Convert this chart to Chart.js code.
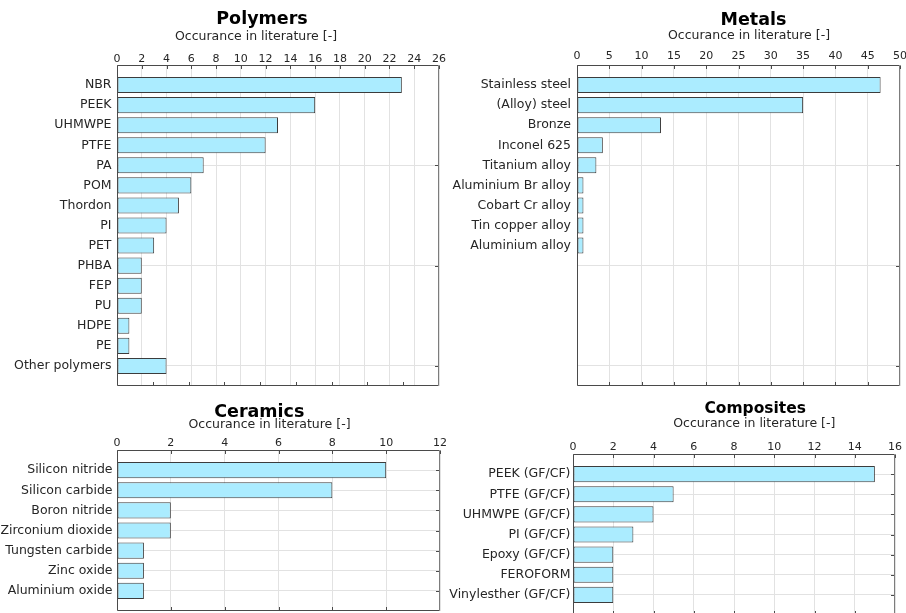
<!DOCTYPE html>
<html>
<head>
<meta charset="utf-8">
<script src="https://cdn.jsdelivr.net/npm/chart.js@4.4.1/dist/chart.umd.min.js"></script>
<style>
  html, body { margin: 0; padding: 0; width: 906px; height: 613px; overflow: hidden; background: #ffffff; }
  canvas { position: absolute; }
</style>
</head>
<body>
<canvas id="polymers" width="453" height="395" style="left:0px;top:0px"></canvas>
<canvas id="metals" width="466" height="395" style="left:440px;top:0px"></canvas>
<canvas id="ceramics" width="453" height="230" style="left:0px;top:395px"></canvas>
<canvas id="composites" width="473" height="235" style="left:433px;top:395px"></canvas>
<script>
// Occurrence counts per material group
const polymerNames = ['NBR', 'PEEK', 'UHMWPE', 'PTFE', 'PA', 'POM', 'Thordon', 'PI', 'PET',
  'PHBA', 'FEP', 'PU', 'HDPE', 'PE', 'Other polymers'];
const polymerCounts = [23, 16, 13, 12, 7, 6, 5, 4, 3, 2, 2, 2, 1, 1, 4];

const metalNames = ['Stainless steel', '(Alloy) steel', 'Bronze', 'Inconel 625', 'Titanium alloy',
  'Aluminium Br alloy', 'Cobart Cr alloy', 'Tin copper alloy', 'Aluminium alloy'];
const metalCounts = [47, 35, 13, 4, 3, 1, 1, 1, 1];

const ceramicNames = ['Silicon nitride', 'Silicon carbide', 'Boron nitride', 'Zirconium dioxide',
  'Tungsten carbide', 'Zinc oxide', 'Aluminium oxide'];
const ceramicCounts = [10, 8, 2, 2, 1, 1, 1];

const compositeNames = ['PEEK (GF/CF)', 'PTFE (GF/CF)', 'UHMWPE (GF/CF)', 'PI (GF/CF)',
  'Epoxy (GF/CF)', 'FEROFORM', 'Vinylesther (GF/CF)'];
const compositeCounts = [15, 5, 4, 3, 2, 2, 2];

// Axis limits and tick steps for the count axis (top)
const polymerAxis = { max: 26, step: 2 };
const metalAxis = { max: 50, step: 5 };
const ceramicAxis = { max: 12, step: 2 };
const compositeAxis = { max: 16, step: 2 };

// Row slots on the category axis, and rows that carry a horizontal grid line
const upperSlots = 16;
const upperGridRows = [5, 10, 15];
const lowerSlots = 8;
const lowerGridRows = [1, 2, 3, 4, 5, 6, 7];

const xLabel = 'Occurance in literature [-]';

Chart.defaults.font.family = '"DejaVu Sans", "Liberation Sans", sans-serif';
Chart.defaults.color = '#262626';

const BAR_FILL = '#abecff';
const BAR_EDGE = '#3c3c3c';
const GRID = '#e2e2e2';
const FRAME = '#4a4a4a';

// Axes box, inward tick marks and the panel headings
const panelFrame = {
  id: 'panelFrame',
  afterDraw(chart, args, o) {
    const { ctx, chartArea: a, scales } = chart;
    const L = Math.round(a.left) + 0.5, R = Math.round(a.right) - 0.5;
    const T = Math.round(a.top) + 0.5, B = Math.round(a.bottom) - 0.5;
    ctx.save();
    ctx.lineWidth = 1;
    ctx.strokeStyle = FRAME;
    // inward ticks along the top edge
    scales.x.ticks.forEach(t => {
      const px = Math.round(scales.x.getPixelForValue(t.value)) + 0.5;
      ctx.beginPath(); ctx.moveTo(px, T); ctx.lineTo(px, T + 3.5); ctx.stroke();
    });
    // inward ticks along the bottom edge
    for (let k = 1; k < o.bottomIntervals; k++) {
      const px = Math.round(a.left + (a.right - a.left) * k / o.bottomIntervals) + 0.5;
      ctx.beginPath(); ctx.moveTo(px, B); ctx.lineTo(px, B - 3.5); ctx.stroke();
    }
    // inward ticks along the right edge
    o.rows.forEach(v => {
      const py = Math.round(scales.y.getPixelForValue(v)) + 0.5;
      ctx.beginPath(); ctx.moveTo(R, py); ctx.lineTo(R - 3.5, py); ctx.stroke();
    });
    // box
    ctx.beginPath();
    ctx.moveTo(L, B); ctx.lineTo(L, T); ctx.lineTo(R, T);
    ctx.moveTo(L, B); ctx.lineTo(R, B);
    ctx.stroke();
    ctx.strokeStyle = '#7c7c7c';
    ctx.beginPath(); ctx.moveTo(R, T); ctx.lineTo(R, B); ctx.stroke();
    // headings
    ctx.textAlign = 'center';
    ctx.textBaseline = 'alphabetic';
    ctx.fillStyle = '#000000';
    ctx.font = 'bold ' + o.titleSize + 'px "DejaVu Sans", sans-serif';
    ctx.fillText(o.title, o.titleX, o.titleY);
    ctx.fillStyle = '#262626';
    ctx.font = '12.5px "DejaVu Sans", sans-serif';
    ctx.fillText(xLabel, o.subX, o.subY);
    ctx.restore();
  }
};

function buildPanel(id, names, counts, axis, slots, gridRows, box, text) {
  const points = counts.map((c, i) => ({ x: c, y: i + 1 }));
  return new Chart(document.getElementById(id), {
    type: 'bar',
    data: {
      datasets: [{
        data: points,
        backgroundColor: BAR_FILL,
        borderColor: BAR_EDGE,
        borderWidth: 1,
        borderSkipped: false,
        barPercentage: 0.8,
        categoryPercentage: 1.0
      }]
    },
    options: {
      indexAxis: 'y',
      responsive: false,
      animation: false,
      devicePixelRatio: 1,
      events: [],
      layout: { autoPadding: false, padding: { left: 0, top: 0, right: box.right, bottom: box.bottom } },
      plugins: {
        legend: { display: false },
        tooltip: { enabled: false },
        panelFrame: Object.assign({ rows: gridRows }, text)
      },
      scales: {
        x: {
          type: 'linear',
          position: 'top',
          min: 0,
          max: axis.max,
          offset: false,
          afterFit: s => { s.height = box.top; s.paddingLeft = 0; s.paddingRight = 0; },
          ticks: { stepSize: axis.step, font: { size: 11 }, color: '#262626', padding: box.tickPad, maxRotation: 0 },
          grid: { color: GRID, drawTicks: false, lineWidth: 1, offset: false },
          border: { display: false }
        },
        y: {
          type: 'linear',
          position: 'left',
          reverse: true,
          min: 0,
          max: slots,
          offset: false,
          afterFit: s => { s.width = box.left; s.paddingTop = 0; s.paddingBottom = 0; },
          ticks: {
            stepSize: 1,
            autoSkip: false,
            font: { size: 12.5 },
            color: '#262626',
            padding: box.labelPad,
            callback: v => names[Math.round(v) - 1] || ''
          },
          grid: {
            drawTicks: false,
            lineWidth: 1,
            offset: false,
            color: c => (c.tick && gridRows.includes(c.tick.value)) ? GRID : 'rgba(0,0,0,0)'
          },
          border: { display: false }
        }
      }
    },
    plugins: [panelFrame]
  });
}

buildPanel('polymers', polymerNames, polymerCounts, polymerAxis, upperSlots, upperGridRows,
  { left: 117, top: 65, right: 14, bottom: 9, tickPad: -0.5, labelPad: 5.5 },
  { title: 'Polymers', titleSize: 17.5, titleX: 262, titleY: 24, subX: 256, subY: 39.5, bottomIntervals: 9 });

buildPanel('metals', metalNames, metalCounts, metalAxis, upperSlots, upperGridRows,
  { left: 137, top: 65, right: 6, bottom: 9, tickPad: 2.7, labelPad: 6 },
  { title: 'Metals', titleSize: 17.5, titleX: 313.5, titleY: 24.5, subX: 309, subY: 39.3, bottomIntervals: 10 });

buildPanel('ceramics', ceramicNames, ceramicCounts, ceramicAxis, lowerSlots, lowerGridRows,
  { left: 117, top: 55, right: 13, bottom: 14, tickPad: 0.2, labelPad: 4.5 },
  { title: 'Ceramics', titleSize: 17.5, titleX: 259.3, titleY: 22, subX: 269.5, subY: 33.3, bottomIntervals: 6 });

buildPanel('composites', compositeNames, compositeCounts, compositeAxis, lowerSlots, lowerGridRows,
  { left: 140, top: 59, right: 11, bottom: 15, tickPad: 0.7, labelPad: 2.5 },
  { title: 'Composites', titleSize: 15.5, titleX: 322.2, titleY: 18.3, subX: 321.3, subY: 32.3, bottomIntervals: 8 });
</script>
</body>
</html>
